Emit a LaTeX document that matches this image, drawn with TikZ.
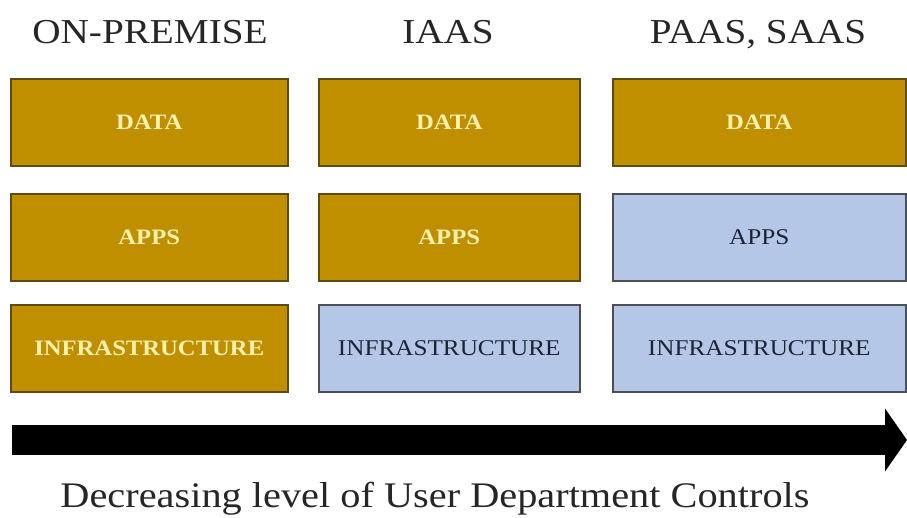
\documentclass[tikz,border=0pt]{standalone}
\usepackage{fontspec}
\setmainfont[FakeStretch=1.12]{Liberation Serif}
\usetikzlibrary{arrows.meta}
\definecolor{gold}{HTML}{BF8F00}
\definecolor{goldedge}{HTML}{5E4A12}
\definecolor{goldtext}{HTML}{FFF2B0}
\definecolor{lblue}{HTML}{B4C7E7}
\definecolor{blueedge}{HTML}{4A4F58}
\definecolor{bluetext}{HTML}{1C2333}
\tikzset{
  box/.style={draw, line width=1.5pt, minimum height=87pt, inner sep=0pt, anchor=north west},
  goldbox/.style={box, fill=gold, draw=goldedge, text=goldtext, font=\fontsize{22}{24}\selectfont\bfseries},
  bluebox/.style={box, fill=lblue, draw=blueedge, text=bluetext, font=\fontsize{22.5}{24}\selectfont},
  title/.style={font=\fontsize{35}{40}\selectfont, text=black!85, anchor=base},
}
\begin{document}
\begin{tikzpicture}[x=1pt,y=-1pt]
\useasboundingbox (0,0) rectangle (907,517);
% titles
\node[title] (t1) at (150,43) {ON-PREMISE};
\node[title] (t2) at (448,43) {IAAS};
\node[title] (t3) at (758,43) {PAAS, SAAS};
% column 1
\node[goldbox, minimum width=277pt] (d1) at (10,78) {DATA};
\node[goldbox, minimum width=277pt] (a1) at (10,193) {APPS};
\node[goldbox, minimum width=277pt] (i1) at (10,304) {INFRASTRUCTURE};
% column 2
\node[goldbox, minimum width=261pt] (d2) at (318,78) {DATA};
\node[goldbox, minimum width=261pt] (a2) at (318,193) {APPS};
\node[bluebox, minimum width=261pt] (i2) at (318,304) {INFRASTRUCTURE};
% column 3
\node[goldbox, minimum width=293pt] (d3) at (612,78) {DATA};
\node[bluebox, minimum width=293pt] (a3) at (612,193) {APPS};
\node[bluebox, minimum width=293pt] (i3) at (612,304) {INFRASTRUCTURE};
% arrow
\coordinate (as) at (12,440);
\coordinate (ae) at (907,440);
\draw[line width=30pt, -{Triangle[length=22pt,width=62pt]}] (as) -- (ae);
\node[font=\fontsize{36}{42}\selectfont, text=black!85, anchor=base] (cap) at (435,507) {Decreasing level of User Department Controls};
\end{tikzpicture}
\end{document}
